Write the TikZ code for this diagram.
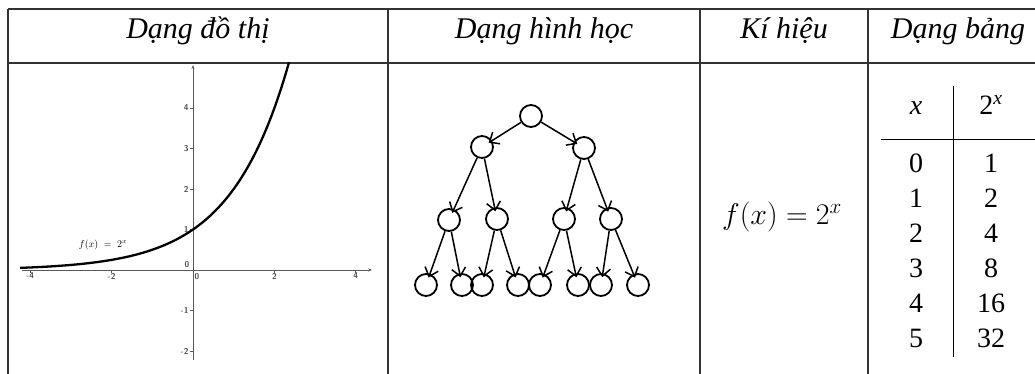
\RequirePackage{fix-cm}
\documentclass[tikz,border=0pt]{standalone}
\usepackage{fontspec}
\setmainfont{Liberation Serif}
\usetikzlibrary{arrows.meta}
\begin{document}
\begin{tikzpicture}[x=1pt,y=-1pt,
  grid/.style={line width=1.4pt, draw=black!80},
  hdr/.style={font=\fontsize{30}{34}\selectfont\itshape, anchor=base, inner sep=0pt},
  cell/.style={font=\fontsize{28}{32}\selectfont, anchor=base, inner sep=0pt},
  vert/.style={circle, draw, line width=1.8pt, minimum size=22pt, inner sep=0pt},
  arr/.style={line width=1.5pt, -{Straight Barb[length=8pt,width=14pt,line width=1.5pt]}},
  axis/.style={draw=black!65, line width=0.9pt},
  ticklbl/.style={font=\fontsize{8.5}{9}\selectfont\sffamily\bfseries, text=black!70, inner sep=1.5pt}
]
\useasboundingbox (0,0) rectangle (1035,374);
\clip (0,0) rectangle (1035,374);
% table grid
\draw[grid] (8,9) -- (1040,9);
\draw[grid] (8,63) -- (1040,63);
\draw[grid] (8,9) -- (8,380);
\draw[grid] (388,9) -- (388,380);
\draw[grid] (700,9) -- (700,380);
\draw[grid] (868,9) -- (868,380);
% headers
\node[hdr] (h1) at (198,39) {Dạng đồ thị};
\node[hdr] (h2) at (544,39) {Dạng hình học};
\node[hdr] (h3) at (784,39) {Kí hiệu};
\node[hdr] (h4) at (958,39) {Dạng bảng};
% graph
\begin{scope}[shift={(193,270)}, x=40.7pt, y=40.5pt]
  \draw[axis, -{Stealth[length=4pt,width=3pt]}] (-4.2,0) -- (4.4,0);
  \draw[axis, -{Stealth[length=4pt,width=3pt]}] (0,-2.22) -- (0,5.06);
  \foreach \t in {-4,-2,2,4} {
    \draw[axis] (\t,0) -- ++(0,-3pt);
    \node[ticklbl, below] (xl\t) at (\t,-0.03) {\t};
  }
  \node[ticklbl, below right] (xl0) at (0,-0.03) {0};
  \foreach \t in {-2,-1,1,2,3,4} {
    \draw[axis] (0,\t) -- ++(-3pt,0);
    \node[ticklbl, left] (yl\t) at (-0.07,\t) {\t};
  }
  \node[ticklbl, above left] (yl0) at (-0.05,0.02) {0};
  \draw[line width=2.3pt] plot[domain=-4.25:2.36, samples=120, smooth] (\x,{pow(2,\x)});
  \node[font=\fontsize{10}{11}\selectfont] (flbl) at (-2.21,0.62) {$f(x)\;=\;2^x$};
\end{scope}
% tree
\node[vert] (r) at (531,116) {};
\node[vert] (a) at (482,147) {};
\node[vert] (b) at (584,148) {};
\node[vert] (aa) at (449,220) {};
\node[vert] (ab) at (497,219) {};
\node[vert] (ba) at (564,219) {};
\node[vert] (bb) at (611,219) {};
\node[vert] (l1) at (426,285) {};
\node[vert] (l2) at (462,285) {};
\node[vert] (l3) at (482,285) {};
\node[vert] (l4) at (518,285) {};
\node[vert] (l5) at (540,285) {};
\node[vert] (l6) at (578,285) {};
\node[vert] (l7) at (601,285) {};
\node[vert] (l8) at (638,285) {};
\foreach \p/\c in {r/a,r/b,a/aa,a/ab,b/ba,b/bb,aa/l1,aa/l2,ab/l3,ab/l4,ba/l5,ba/l6,bb/l7,bb/l8}
  \draw[arr, shorten >=-4pt] (\p) -- (\c);
% formula
\node[font=\fontsize{30}{34}\selectfont] (fx) at (782,217) {$f(x) = 2^x$};
% value table
\node[cell] (tx) at (916,115) {\textit{x}};
\node[cell] (t2) at (991,115) {2\textsuperscript{\textit{x}}};
\coordinate (hl) at (881,140);
\coordinate (hr) at (1040,140);
\draw[line width=1pt] (hl) -- (hr);
\coordinate (vt) at (953,86);
\coordinate (vb) at (953,357);
\draw[line width=1pt] (vt) -- (vb);
\foreach \i/\v [count=\k from 0] in {0/1,1/2,2/4,3/8,4/16,5/32} {
  \node[cell] (xa\k) at (916,{172+35*\k}) {\i};
  \node[cell] (xb\k) at (991,{172+35*\k}) {\v};
}
\end{tikzpicture}
\end{document}
